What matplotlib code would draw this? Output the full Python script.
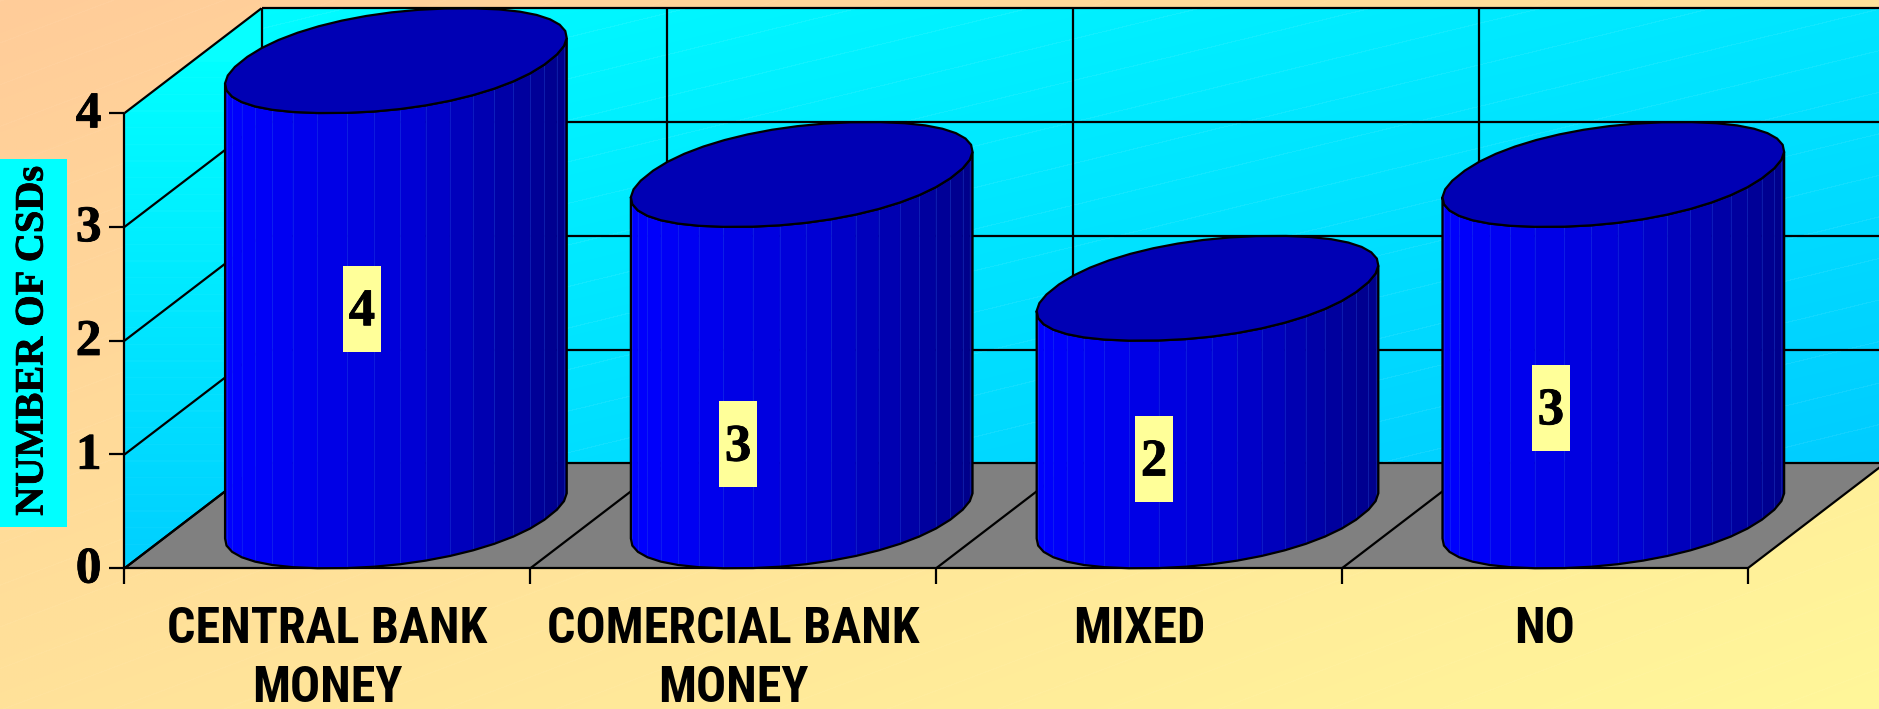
import matplotlib
matplotlib.use("Agg")
import matplotlib.pyplot as plt
from matplotlib.patches import Polygon, Rectangle
import matplotlib.patheffects as pe
import numpy as np

# chart values
categories = ["CENTRAL BANK\nMONEY", "COMERCIAL BANK\nMONEY", "MIXED", "NO"]
values = [4, 3, 2, 3]
y_ticks = [0, 1, 2, 3, 4]
y_title = "NUMBER OF CSDs"
label_x = [0.585, 1.512, 2.537, 3.515]
label_y = [2.28, 1.09, 0.96, 1.41]

W, H = 1879, 709
x_unit, y_unit = 405.8, 113.8
x0_px, y0_px = 124.5, 568.3
depth_x, depth_y = 137 / x_unit, 104.8 / y_unit
half_extent = 0.421
half_w = np.sqrt(half_extent ** 2 - (depth_x / 2) ** 2)
serif = ["Liberation Serif", "DejaVu Serif"]
sans = ["Roboto Condensed", "Roboto", "Liberation Sans", "DejaVu Sans"]
heavy = [pe.withStroke(linewidth=0.6, foreground="black")]


def hex_rgb(c):
    return np.array(matplotlib.colors.to_rgb(c))


def gradient(c1, c2, a, b, y_from, y_to, bands, mix):
    # diagonal two colour fill with the faint banding lines of the original
    yy, xx = np.mgrid[0:H, 0:W]
    t = a * xx / W + b * np.clip((yy - y_from) / (y_to - y_from), 0, 1)
    t = np.clip(t, 0, 1)[..., None]
    img = hex_rgb(c1) * (1 - t) + hex_rgb(c2) * t
    step = b / (y_to - y_from) * bands
    line = ((t * bands) % 1) < step * 1.2
    return img * (1 - mix * line) + mix * line


def soft_power(a, p=0.92):
    return np.sign(a) * np.abs(a) ** p


fig = plt.figure(figsize=(W / 100, H / 100), dpi=100)
ax = fig.add_axes([0, 0, 1, 1])
xlim = (-x0_px / x_unit, (W - x0_px) / x_unit)
ylim = ((y0_px - H) / y_unit, y0_px / y_unit)
extent = (xlim[0], xlim[1], ylim[0], ylim[1])
ax.set_xlim(xlim)
ax.set_ylim(ylim)
ax.axis("off")

n = len(categories)
top = max(y_ticks)

ax.imshow(gradient("#FFCC99", "#FFF799", 0.5, 0.5, 0, H, 34, 0.04),
          extent=extent, aspect="auto", zorder=0, interpolation="nearest")

# walls
wall = gradient("#00FFFF", "#00CCFF", 0.5, 0.5, 8, 465, 22, 0.07)
back = Polygon([(depth_x, depth_y), (xlim[1], depth_y), (xlim[1], top + depth_y), (depth_x, top + depth_y)],
               transform=ax.transData)
im = ax.imshow(wall, extent=extent, aspect="auto", zorder=0.5, interpolation="nearest")
im.set_clip_path(back)
side_img = gradient("#00FFFF", "#00D0FF", 0.0, 1.0, 60, 560, 30, 0.03)
side = Polygon([(0, 0), (depth_x, depth_y), (depth_x, top + depth_y), (0, top)], transform=ax.transData)
im2 = ax.imshow(side_img, extent=extent, aspect="auto", zorder=0.5, interpolation="nearest")
im2.set_clip_path(side)
ax.set_xlim(xlim)
ax.set_ylim(ylim)

# floor
ax.add_patch(Polygon([(0, 0), (n, 0), (n + depth_x, depth_y), (depth_x, depth_y)],
                     facecolor="#808080", edgecolor="none", zorder=1))

# grid and frame
line = dict(color="black", lw=1.6, zorder=2, solid_capstyle="butt")
for v in y_ticks:
    ax.plot([0, depth_x], [v, v + depth_y], **line)
    ax.plot([depth_x, xlim[1]], [v + depth_y, v + depth_y], **line)
    ax.plot([-15 / x_unit, 0], [v, v], **line)
    ax.text(-23 / x_unit, v - 0.02, str(v), ha="right", va="center", family=serif, weight="bold",
            fontsize=37, color="black", zorder=6, path_effects=heavy)
for i in range(n + 1):
    ax.plot([i, i + depth_x], [0, depth_y], **line)
    ax.plot([i, i], [0, -16 / y_unit], **line)
    ax.plot([i + depth_x, i + depth_x], [depth_y, top + depth_y], **line)
ax.plot([0, n], [0, 0], **line)
ax.plot([0, 0], [0, top], **line)

# cylinders, base shape is a slightly squared ellipse with flat facets
angle0 = np.arctan2(depth_x / 2, half_w)
ring = np.linspace(0, 2 * np.pi, 41)[:-1] + angle0
ring_x = half_w * soft_power(np.cos(ring)) + depth_x / 2 * soft_power(np.sin(ring))
ring_y = depth_y / 2 * soft_power(np.sin(ring))
ring_x = ring_x * half_extent / np.abs(ring_x).max()
c_left, c_mid, c_right = hex_rgb("#0000FF"), hex_rgb("#0000D4"), hex_rgb("#000088")
low = ring_x.argmin()
high = ring_x.argmax()
order = (low + np.arange(len(ring))) % len(ring)
stop = list(order).index(high)
front_x = ring_x[order[:stop + 1]]
front_y = ring_y[order[:stop + 1]]

for i, v in enumerate(values):
    cx = i + 0.5 + depth_x / 2
    fx = cx + front_x
    fy = front_y + depth_y / 2
    for k in range(len(fx) - 1):
        s = (0.5 * (fx[k] + fx[k + 1]) - fx[0]) / (fx[-1] - fx[0])
        if s < 0.55:
            col = c_left * (1 - s / 0.55) + c_mid * (s / 0.55)
        else:
            col = c_mid * (1 - (s - 0.55) / 0.45) + c_right * ((s - 0.55) / 0.45)
        if k == 0:
            col = hex_rgb("#0000E6")
        ax.add_patch(Polygon([(fx[k], fy[k]), (fx[k + 1], fy[k + 1]), (fx[k + 1], fy[k + 1] + v), (fx[k], fy[k] + v)],
                             facecolor=col, edgecolor=col, lw=0.5, zorder=3))
        if k > 0:
            ax.plot([fx[k], fx[k]], [fy[k], fy[k] + v], color="#2A5AE8", lw=0.7, alpha=0.3, zorder=3.1)
    outline = list(zip(fx, fy)) + list(zip(fx[::-1], fy[::-1] + v))
    ax.add_patch(Polygon(outline, closed=True, fill=False, edgecolor="black", lw=1.6, zorder=3.2))
    ax.add_patch(Polygon(list(zip(cx + ring_x, ring_y + depth_y / 2 + v)), closed=True, facecolor="#0000B4",
                         edgecolor="black", lw=1.6, zorder=3.3))

# value labels
box_w, box_h = 38 / x_unit, 86 / y_unit
for x, y, v in zip(label_x, label_y, values):
    ax.add_patch(Rectangle((x - box_w / 2, y - box_h / 2), box_w, box_h, facecolor="#FFFF99",
                           edgecolor="none", zorder=5))
    ax.text(x, y - 0.03, str(v), ha="center", va="center", family=serif, weight="bold", fontsize=38,
            color="black", zorder=6, path_effects=heavy)

# category labels
for i, name in enumerate(categories):
    ax.text(i + 0.5, -0.33, name, ha="center", va="top", family=sans, weight="bold", fontsize=36,
            color="black", linespacing=1.33, zorder=6)

# y title on its cyan box
fig.patches.append(Rectangle((0, 1 - 527 / H), 67 / W, 368 / H, transform=fig.transFigure, facecolor="#00FFFF",
                             edgecolor="none", zorder=5))
fig.text(33 / W, 1 - 341 / H, y_title, rotation=90, ha="center", va="center", family=serif, weight="bold",
         fontsize=29, color="black", zorder=6, path_effects=heavy)

fig.savefig("out.png", dpi=100)
